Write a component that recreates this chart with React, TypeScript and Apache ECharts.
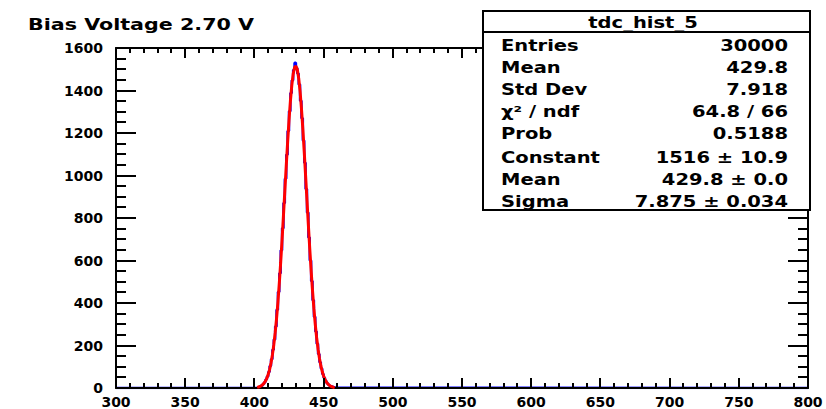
import React, { useEffect, useRef } from "react";
import * as echarts from "echarts";

const TITLE = "Bias Voltage 2.70 V";
const HIST_NAME = "tdc_hist_5";

// histogram: bins of width 1, first non-empty region starts at 400
const X_MIN = 300;
const X_MAX = 800;
const X_MAJOR = 50;
const X_MINOR = 10;
const Y_MIN = 0;
const Y_MAX = 1600;
const Y_MAJOR = 200;
const Y_MINOR = 50;
const HIST_START = 400;
const histCounts = [
  0, 1, 3, 5, 9, 12, 19, 27, 40, 54,
  75, 103, 135, 180, 228, 290, 368, 452, 540, 648,
  752, 871, 985, 1098, 1210, 1302, 1388, 1448, 1497, 1531,
  1506, 1480, 1428, 1352, 1270, 1165, 1060, 937, 826, 708,
  600, 503, 413, 335, 266, 208, 160, 121, 92, 66,
  48, 34, 24, 16, 11, 7, 5, 3, 2, 1,
];

// Gaussian fit curve values
const fitX = [
  402, 403, 404, 405, 406, 407, 408, 409, 410, 411, 412, 413, 414, 415, 416, 417, 418, 419, 420,
  421, 422, 423, 424, 425, 426, 427, 428, 429, 430, 431, 432, 433, 434, 435, 436, 437, 438, 439,
  440, 441, 442, 443, 444, 445, 446, 447, 448, 449, 450, 451, 452, 453, 454, 455, 456, 457, 458,
];
const fitY = [
  3.0, 4.6, 7.1, 10.6, 15.8, 22.9, 32.8, 46.3, 64.3, 87.7, 117.8, 155.8, 202.6, 259.3, 326.5, 404.6,
  493.4, 591.9, 698.9, 812.0, 928.2, 1044.2, 1155.9, 1259.0, 1349.4, 1423.1, 1476.9, 1508.2, 1515.5,
  1498.5, 1458.0, 1395.9, 1315.0, 1219.0, 1112.0, 998.1, 881.6, 766.2, 655.2, 551.4, 456.6, 372.1,
  298.3, 235.4, 182.7, 139.6, 104.9, 77.6, 56.5, 40.4, 28.5, 19.8, 13.5, 9.1, 6.0, 3.9, 2.5,
];

const statLabels = ["Entries", "Mean", "Std Dev", "χ² / ndf", "Prob", "Constant", "Mean", "Sigma"];
const statValues = ["30000", "429.8", "7.918", "64.8 / 66", "0.5188", "1516 ± 10.9", "429.8 ± 0.0", "7.875 ± 0.034"];

const FONT = "'DejaVu Sans', sans-serif";

export default function App() {
  const ref = useRef<HTMLDivElement>(null);
  useEffect(() => {
    if (!ref.current) return;
    const chart = echarts.init(ref.current, undefined, { renderer: "svg" });

    const histData: [number, number][] = [[X_MIN, 0]];
    histCounts.forEach((v, i) => histData.push([HIST_START + i, v]));
    histData.push([HIST_START + histCounts.length, 0]);
    histData.push([X_MAX, 0]);
    const fitData = fitX.map((x, i) => [x, fitY[i]]);

    // tick specs: [axis (0 = x, 1 = y), value, major (1) or minor (0)]
    const tickData: number[][] = [];
    for (let v = X_MIN; v <= X_MAX; v += X_MINOR) tickData.push([0, v, v % X_MAJOR === 0 ? 1 : 0]);
    for (let v = Y_MIN; v <= Y_MAX; v += Y_MINOR) tickData.push([1, v, v % Y_MAJOR === 0 ? 1 : 0]);

    const lineStyle = { color: "#000", width: 2 };
    const xAxisBase = {
      type: "value" as const,
      min: X_MIN,
      max: X_MAX,
      interval: X_MAJOR,
      z: 3.5,
      axisLine: { show: true, onZero: false, lineStyle },
      axisTick: { show: false },
      minorTick: { show: false },
      splitLine: { show: false },
    };
    const yAxisBase = {
      type: "value" as const,
      min: Y_MIN,
      max: Y_MAX,
      interval: Y_MAJOR,
      z: 3.5,
      axisLine: { show: true, onZero: false, lineStyle },
      axisTick: { show: false },
      minorTick: { show: false },
      splitLine: { show: false },
    };
    const labelStyle = {
      color: "#000",
      fontFamily: FONT,
      fontWeight: "bold" as const,
      fontSize: 14,
      formatter: (v: number) => String(v),
    };

    const boxL = 483, boxT = 11, boxR = 810, boxB = 210;
    const rowY = [45, 67, 89, 111, 133, 157, 179, 201];
    const sx = 1.22;
    const textEl = (text: string, x: number, y: number, align: string, fontSize = 16) => ({
      type: "text",
      x,
      y,
      scaleX: sx,
      z: 101,
      style: {
        text,
        x: 0,
        y: 0,
        fill: "#000",
        font: `bold ${fontSize}px 'DejaVu Sans', sans-serif`,
        align,
        verticalAlign: "middle",
        textAlign: align,
        textVerticalAlign: "middle",
      },
    });

    const graphics: any[] = [
      {
        type: "text",
        x: 28,
        y: 24,
        scaleX: 1.29,
        z: 101,
        style: {
          text: TITLE,
          x: 0,
          y: 0,
          fill: "#000",
          font: `bold 16px 'DejaVu Sans', sans-serif`,
          align: "left",
          verticalAlign: "middle",
          textAlign: "left",
          textVerticalAlign: "middle",
        },
      },
      {
        type: "rect",
        z: 100,
        shape: { x: boxL, y: boxT, width: boxR - boxL, height: boxB - boxT },
        style: { fill: "#fff", stroke: "#000", lineWidth: 2 },
      },
      {
        type: "line",
        z: 101,
        shape: { x1: boxL, y1: 32, x2: boxR, y2: 32 },
        style: { stroke: "#000", lineWidth: 2 },
      },
      textEl(HIST_NAME, 643, 22, "center"),
    ];
    statLabels.forEach((l, i) => graphics.push(textEl(l, 501, rowY[i], "left")));
    statValues.forEach((v, i) => graphics.push(textEl(v, 788, rowY[i], "right")));

    const tickStyle = { stroke: "#000", lineWidth: 2 };
    const R = Math.round;
    const renderTick = (params: any, api: any) => {
      const axis = api.value(0);
      const v = api.value(1);
      const major = api.value(2) === 1;
      if (axis === 0) {
        const len = major ? 10 : 5;
        const b = api.coord([v, Y_MIN]);
        const t = api.coord([v, Y_MAX]);
        return {
          type: "group",
          children: [
            { type: "line", shape: { x1: R(b[0]), y1: R(b[1]), x2: R(b[0]), y2: R(b[1]) - len }, style: tickStyle },
            { type: "line", shape: { x1: R(t[0]), y1: R(t[1]), x2: R(t[0]), y2: R(t[1]) + len }, style: tickStyle },
          ],
        };
      }
      const len = major ? 20 : 10;
      const l = api.coord([X_MIN, v]);
      const r = api.coord([X_MAX, v]);
      return {
        type: "group",
        children: [
          { type: "line", shape: { x1: R(l[0]), y1: R(l[1]), x2: R(l[0]) + len, y2: R(l[1]) }, style: tickStyle },
          { type: "line", shape: { x1: R(r[0]), y1: R(r[1]), x2: R(r[0]) - len, y2: R(r[1]) }, style: tickStyle },
        ],
      };
    };

    chart.setOption({
      animation: false,
      backgroundColor: "#fff",
      grid: { left: 116, right: 18, top: 48, bottom: 21, containLabel: false },
      xAxis: [
        { ...xAxisBase, position: "bottom", axisLabel: { ...labelStyle, margin: 7 } },
        { ...xAxisBase, position: "top", axisLabel: { show: false } },
      ],
      yAxis: [
        { ...yAxisBase, position: "left", axisLabel: { ...labelStyle, margin: 13 } },
        { ...yAxisBase, position: "right", axisLabel: { show: false } },
      ],
      series: [
        {
          type: "line",
          name: HIST_NAME,
          data: histData,
          step: "end",
          showSymbol: false,
          symbol: "none",
          lineStyle: { color: "#0000ff", width: 2.5 },
          z: 3,
        },
        {
          type: "line",
          name: "fit",
          data: fitData,
          showSymbol: false,
          symbol: "none",
          lineStyle: { color: "#ff0000", width: 3 },
          z: 4,
        },
        {
          type: "custom",
          name: "ticks",
          data: tickData,
          renderItem: renderTick,
          clip: false,
          silent: true,
          z: 5,
        },
      ],
      graphic: graphics,
    });
    return () => chart.dispose();
  }, []);
  return <div ref={ref} style={{ width: 826, height: 409, position: "absolute", left: 0, top: 0 }} />;
}
